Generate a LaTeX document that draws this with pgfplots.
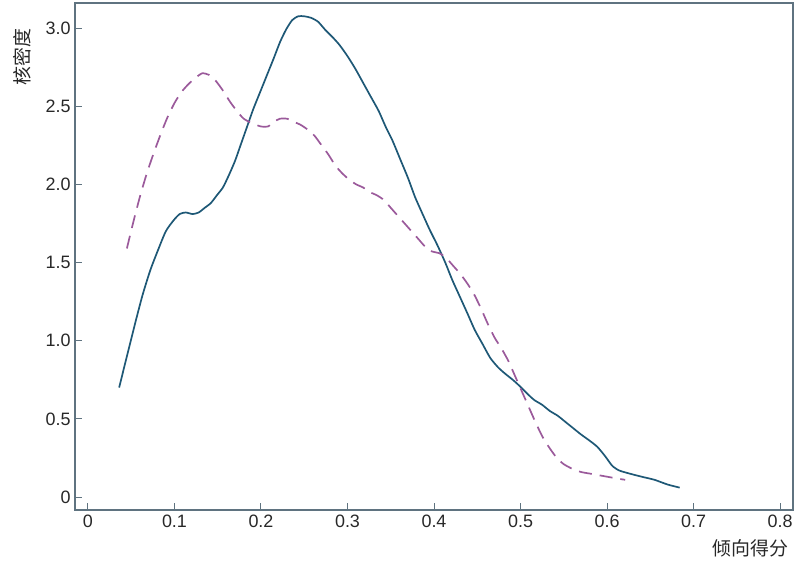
\documentclass[border=0pt]{standalone}
\usepackage{pgfplots}
\pgfplotsset{compat=1.18}
\usepackage{fontspec}
\setmainfont{Liberation Sans}
\newfontfamily\cjk{Noto Sans CJK SC}
\definecolor{axcol}{RGB}{95,115,128}
\definecolor{solidc}{RGB}{30,88,118}
\definecolor{dashc}{RGB}{155,90,155}
\definecolor{txt}{RGB}{40,40,40}
\begin{document}
\begin{tikzpicture}
\path[use as bounding box] (-75bp,-52bp) rectangle (729bp,510bp);
\begin{axis}[
  scale only axis,
  width=718bp, height=507bp,
  xmin=-0.015, xmax=0.815,
  ymin=-0.083, ymax=3.16,
  xtick={0,0.1,...,0.8},
  ytick={0,0.5,...,3.0},
  xticklabels={0,0.1,0.2,0.3,0.4,0.5,0.6,0.7,0.8},
  yticklabels={0,0.5,1.0,1.5,2.0,2.5,3.0},
  tick align=inside,
  xtick pos=bottom, ytick pos=left,
  major tick length=7bp,
  axis line style={draw=axcol, line width=1.3bp},
  every tick/.style={draw=axcol, line width=1bp},
  tick label style={font=\fontsize{18}{20}\selectfont, text=txt},
  /pgf/number format/assume math mode=true,
  xticklabel style={yshift=-1bp},
  yticklabel style={xshift=-1bp},
  xlabel={\cjk 倾向得分},
  ylabel={\cjk 核密度},
  label style={font=\fontsize{19}{21}\selectfont, text=txt},
  xlabel style={at={(axis description cs:0.941,-0.075)}, anchor=center},
  ylabel style={at={(axis description cs:-0.074,0.893)}, anchor=center},
]
\addplot[solidc, line width=1.7bp, smooth, tension=0.4] coordinates {
(0.036,0.70) (0.045,0.90) (0.054,1.10) (0.063,1.29) (0.072,1.45)
(0.081,1.58) (0.090,1.70) (0.099,1.77) (0.106,1.81) (0.113,1.82)
(0.121,1.81) (0.128,1.82) (0.135,1.85) (0.142,1.88) (0.149,1.93)
(0.156,1.98) (0.163,2.06) (0.170,2.15) (0.177,2.26) (0.184,2.37)
(0.191,2.48) (0.199,2.59) (0.207,2.70) (0.215,2.81) (0.222,2.91)
(0.229,2.99) (0.236,3.05) (0.243,3.075) (0.250,3.075) (0.258,3.065)
(0.266,3.04) (0.274,2.99) (0.283,2.94) (0.291,2.89) (0.300,2.82)
(0.309,2.74) (0.318,2.65) (0.327,2.56) (0.336,2.47) (0.344,2.37)
(0.352,2.28) (0.361,2.16) (0.370,2.04) (0.378,1.92) (0.386,1.82)
(0.395,1.71) (0.404,1.61) (0.413,1.50) (0.421,1.39) (0.430,1.28)
(0.439,1.17) (0.447,1.07) (0.456,0.98) (0.465,0.89) (0.474,0.83)
(0.482,0.79) (0.491,0.75) (0.499,0.71) (0.508,0.66) (0.516,0.62)
(0.525,0.59) (0.534,0.55) (0.543,0.52) (0.552,0.48) (0.561,0.44)
(0.570,0.40) (0.580,0.36) (0.589,0.32) (0.598,0.26) (0.606,0.20)
(0.614,0.17) (0.626,0.15) (0.640,0.13) (0.655,0.11) (0.670,0.08)
(0.684,0.06)
};
\addplot[dashc, line width=1.7bp, dash pattern=on 13bp off 8bp, smooth, tension=0.4] coordinates {
(0.045,1.59) (0.052,1.75) (0.060,1.92) (0.068,2.07) (0.076,2.20)
(0.084,2.32) (0.092,2.43) (0.100,2.52) (0.108,2.59) (0.116,2.64)
(0.124,2.68) (0.132,2.71) (0.140,2.70) (0.148,2.66) (0.156,2.60)
(0.164,2.53) (0.172,2.47) (0.180,2.42) (0.190,2.39) (0.200,2.37)
(0.208,2.37) (0.215,2.40) (0.222,2.42) (0.230,2.42) (0.238,2.40)
(0.246,2.38) (0.254,2.35) (0.262,2.31) (0.270,2.25) (0.278,2.19)
(0.286,2.12) (0.294,2.07) (0.302,2.03) (0.310,2.00) (0.318,1.98)
(0.326,1.95) (0.334,1.93) (0.342,1.90) (0.350,1.85) (0.358,1.80)
(0.366,1.75) (0.374,1.70) (0.382,1.65) (0.390,1.60) (0.398,1.57)
(0.406,1.56) (0.414,1.53) (0.422,1.48) (0.430,1.43) (0.438,1.37)
(0.446,1.30) (0.454,1.21) (0.462,1.11) (0.470,1.02) (0.478,0.95)
(0.486,0.87) (0.494,0.77) (0.502,0.67) (0.510,0.57) (0.518,0.47)
(0.526,0.38) (0.534,0.31) (0.542,0.25) (0.550,0.21) (0.560,0.18)
(0.570,0.16) (0.580,0.15) (0.590,0.14) (0.600,0.13) (0.610,0.12)
(0.621,0.11)
};
\end{axis}
\end{tikzpicture}
\end{document}
